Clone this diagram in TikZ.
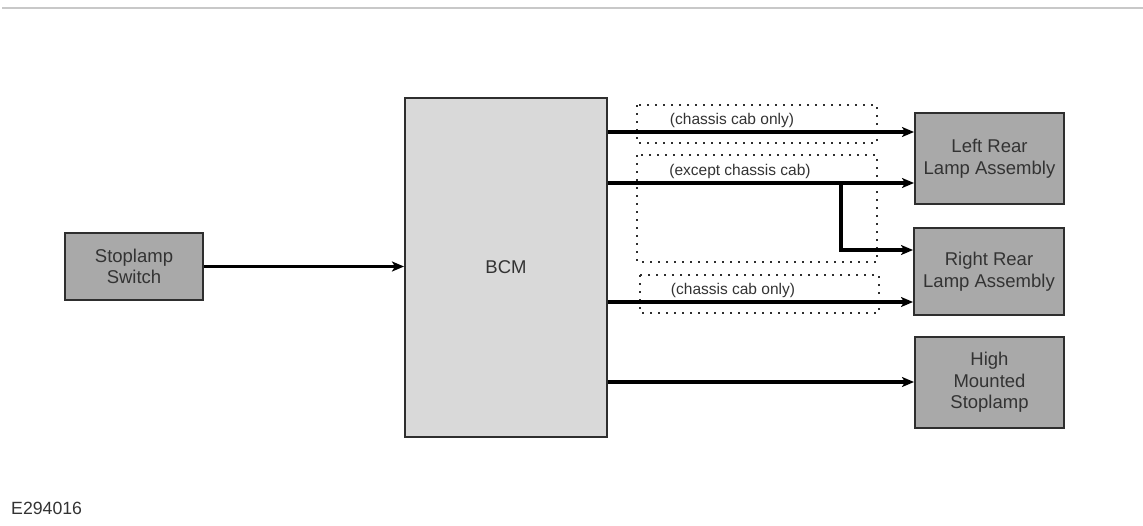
\documentclass[tikz,border=0pt]{standalone}
\usepackage{fontspec}
\setmainfont{Liberation Sans}
\usetikzlibrary{arrows.meta,calc}
\definecolor{boxdark}{HTML}{A9A9A9}
\definecolor{boxlight}{HTML}{D9D9D9}
\definecolor{edge}{HTML}{2E2E2E}
\definecolor{txt}{HTML}{333333}
\definecolor{rule}{HTML}{C8C8C8}
\tikzset{
  blk/.style={draw=edge, line width=2pt, fill=boxdark, align=center, text=txt,
    font=\fontsize{18.5}{21.5}\selectfont, inner sep=0pt},
  bcmbox/.style={blk, fill=boxlight},
  arr/.style={line width=3.2pt, -{Stealth[length=12pt,width=10pt,inset=3pt]}},
  dotbox/.style={draw=edge, line width=1.6pt, dash pattern=on 1.6pt off 6.4pt},
  lbl/.style={text=txt, font=\fontsize{15.5}{17}\selectfont, inner sep=0pt}
}
\begin{document}
\begin{tikzpicture}[x=1pt,y=-1pt]
\useasboundingbox (0,0) rectangle (1143,525);
\draw[rule, line width=2.5pt] (2,8) -- (1143,8);

\node[blk, minimum width=138pt, minimum height=67pt] (sw) at (134,266.5) {Stoplamp\\Switch};
\node[bcmbox, minimum width=202pt, minimum height=339pt] (bcm) at (506,267.5) {BCM};
\node[blk, minimum width=149pt, minimum height=91pt] (lr) at (989.5,158.5) {Left Rear\\Lamp Assembly};
\node[blk, minimum width=150pt, minimum height=87pt] (rr) at (989,271.5) {Right Rear\\Lamp Assembly};
\node[blk, minimum width=149pt, minimum height=91pt] (hm) at (989.5,382.5) {High\\Mounted\\Stoplamp};

% dotted boxes
\draw[dotbox] (637,105) rectangle (877,143);
\draw[dotbox] (637,155) rectangle (877,262);
\draw[dotbox] (640,275) rectangle (879,313);

% connectors
\draw[arr] (sw.east) -- (sw.east -| bcm.west);
\coordinate (y1) at (0,132);
\coordinate (y2) at (0,183);
\coordinate (y3) at (0,250);
\coordinate (y4) at (0,302);
\coordinate (y5) at (0,382);
\coordinate (bx) at (841,0);
\draw[arr] (bcm.east |- y1) -- (lr.west |- y1);
\draw[arr] (bcm.east |- y2) -- (lr.west |- y2);
\draw[arr] (bx |- y2) -- (bx |- y3) -- (rr.west |- y3);
\draw[arr] (bcm.east |- y4) -- (rr.west |- y4);
\draw[arr] (bcm.east |- y5) -- (hm.west |- y5);

% labels
\node[lbl] (l1) at (732,120) {(chassis cab only)};
\node[lbl] (l2) at (740,171) {(except chassis cab)};
\node[lbl] (l3) at (733,290) {(chassis cab only)};

\node[anchor=west, text=txt, font=\fontsize{17.7}{20}\selectfont, inner sep=0pt] (code) at (11,508) {E294016};
\end{tikzpicture}
\end{document}
